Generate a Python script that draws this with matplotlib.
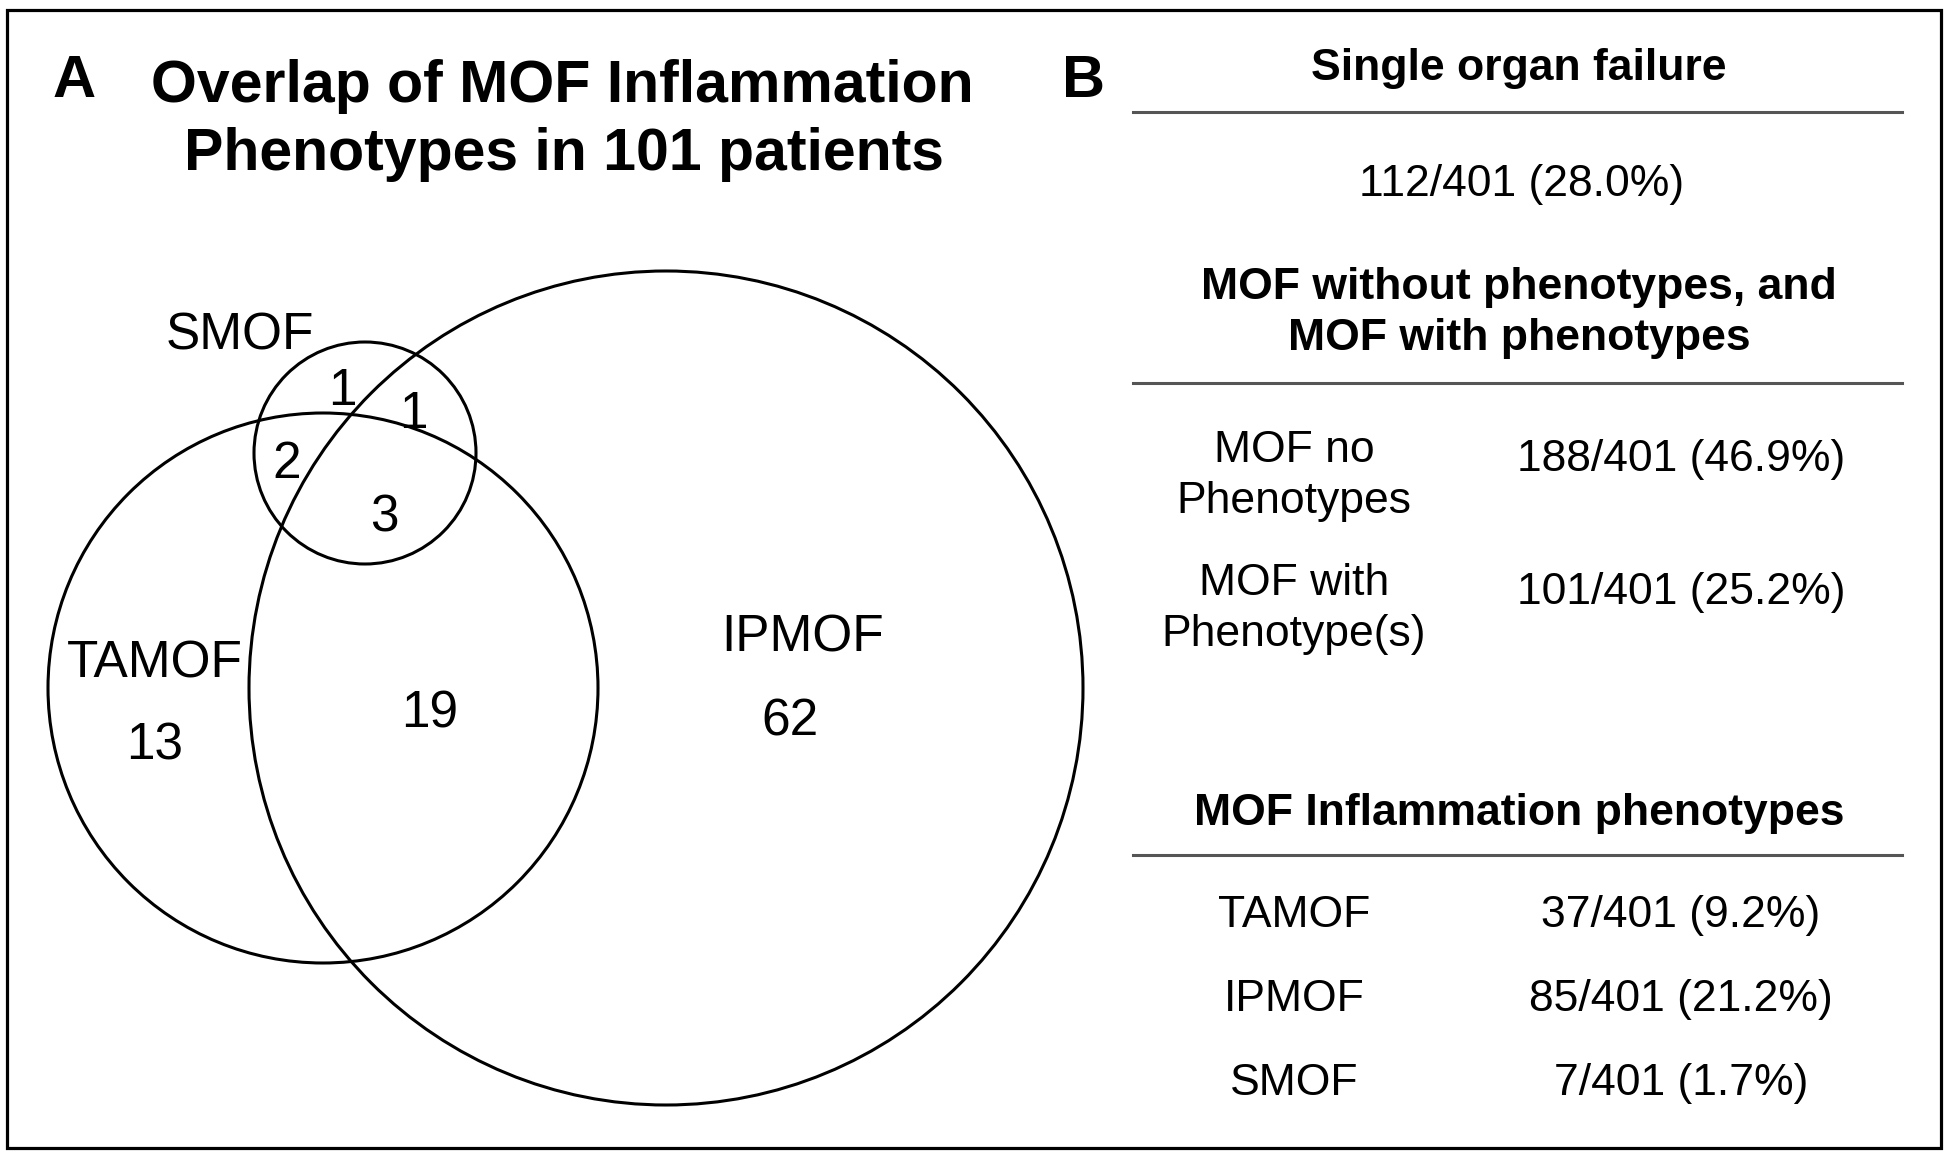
# Venn of MOF inflammation phenotypes (panel A) and counts table (panel B)

import matplotlib.pyplot as plt
from matplotlib.patches import Circle, Rectangle

plt.rcParams['font.family'] = ['Liberation Sans', 'DejaVu Sans']

# data
set_names = ['TAMOF', 'IPMOF', 'SMOF']
region_counts = ['13', '19', '62', '2', '3', '1', '1']   # TA only, TA+IP, IP only, TA+S, all, S only, IP+S
title_lines = ['Overlap of MOF Inflammation', 'Phenotypes in 101 patients']

section_heads = ['Single organ failure',
                 'MOF without phenotypes, and\nMOF with phenotypes',
                 'MOF Inflammation phenotypes']
sof_value = '112/401 (28.0%)'
mof_groups = ['MOF no\nPhenotypes', 'MOF with\nPhenotype(s)']
mof_values = ['188/401 (46.9%)', '101/401 (25.2%)']
pheno_names = ['TAMOF', 'IPMOF', 'SMOF']
pheno_values = ['37/401 (9.2%)', '85/401 (21.2%)', '7/401 (1.7%)']

# layout (pixel space of the 1950x1157 canvas)
circle_xy = {'TAMOF': (323, 688), 'IPMOF': (666, 688), 'SMOF': (365, 453)}
circle_r = {'TAMOF': 275, 'IPMOF': 417, 'SMOF': 111}
set_label_xy = {'TAMOF': (155, 678), 'IPMOF': (803, 652), 'SMOF': (240, 349)}
region_xy = [(155, 759), (430, 727), (790, 736), (287, 478), (384, 532), (342, 405), (413, 428)]

fig = plt.figure(figsize=(19.5, 11.57), dpi=100)
ax = fig.add_axes([0, 0, 1, 1])
ax.set_xlim(0, 1950)
ax.set_ylim(1157, 0)
ax.axis('off')

# outer frame
ax.add_patch(Rectangle((7, 10), 1934, 1138, fill=False, edgecolor='black', linewidth=2.3))

# panel A
ax.text(74, 97, 'A', fontsize=43, fontweight='bold', ha='center', va='baseline')
ax.text(562, 102, title_lines[0], fontsize=42.5, fontweight='bold', ha='center', va='baseline')
ax.text(564, 170, title_lines[1], fontsize=42.5, fontweight='bold', ha='center', va='baseline')

for name in set_names:
    ax.add_patch(Circle(circle_xy[name], circle_r[name], fill=False,
                        edgecolor='black', linewidth=2.2))
    x, y = set_label_xy[name]
    ax.text(x, y, name, fontsize=37, ha='center', va='baseline')

for (x, y), n in zip(region_xy, region_counts):
    ax.text(x, y, n, fontsize=37, ha='center', va='baseline')

# panel B
ax.text(1084, 97, 'B', fontsize=43, fontweight='bold', ha='center', va='baseline')

col_mid = 1519
col_l = 1294
col_r = 1681
line_kw = dict(color='#555555', linewidth=2.2)

ax.text(col_mid, 80, section_heads[0], fontsize=32, fontweight='bold', ha='center', va='baseline')
ax.plot([1133, 1902], [112, 112], **line_kw)
ax.text(1522, 196, sof_value, fontsize=32, ha='center', va='baseline')

head2 = section_heads[1].split('\n')
ax.text(col_mid, 299, head2[0], fontsize=32, fontweight='bold', ha='center', va='baseline')
ax.text(col_mid, 350, head2[1], fontsize=32, fontweight='bold', ha='center', va='baseline')
ax.plot([1133, 1902], [383, 383], **line_kw)

for i, (grp, val) in enumerate(zip(mof_groups, mof_values)):
    base = 462 + i * 133
    l1, l2 = grp.split('\n')
    ax.text(col_l, base, l1, fontsize=32, ha='center', va='baseline')
    ax.text(col_l, base + 51, l2, fontsize=32, ha='center', va='baseline')
    ax.text(col_r, base + 9, val, fontsize=32, ha='center', va='baseline')

ax.text(col_mid, 825, section_heads[2], fontsize=32, fontweight='bold', ha='center', va='baseline')
ax.plot([1133, 1902], [855, 855], **line_kw)

for i, (nm, val) in enumerate(zip(pheno_names, pheno_values)):
    base = 927 + i * 84
    ax.text(col_l, base, nm, fontsize=32, ha='center', va='baseline')
    ax.text(col_r, base, val, fontsize=32, ha='center', va='baseline')

plt.savefig('out.png', dpi=100, facecolor='white')
